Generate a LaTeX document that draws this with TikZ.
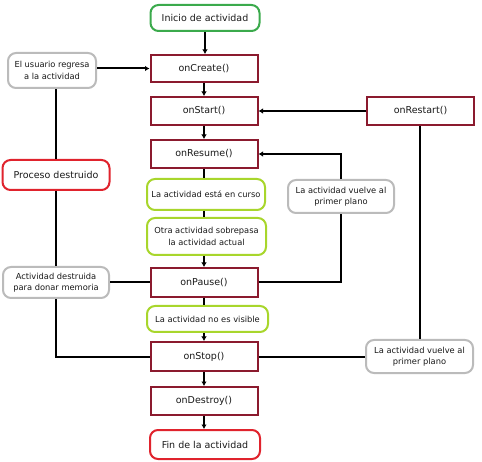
\documentclass[tikz,border=0pt]{standalone}
\usepackage{fontspec}
\setmainfont{DejaVu Sans}
\usetikzlibrary{arrows.meta}
\definecolor{mroon}{HTML}{8B1A2E}
\definecolor{dgreen}{HTML}{3BAA4C}
\definecolor{ygreen}{HTML}{A8D62C}
\definecolor{bred}{HTML}{E0232D}
\definecolor{lgray}{HTML}{BBBBBB}
\tikzset{
  base/.style={draw, line width=2pt, fill=white, align=center, inner sep=1pt, text=black!90},
  big/.style={font=\fontsize{9.5}{11}\selectfont},
  small/.style={font=\fontsize{8.3}{11.5}\selectfont},
  method/.style={base, big, draw=mroon, minimum width=107pt, minimum height=27pt},
  greenbox/.style={base, big, draw=dgreen, rounded corners=8pt},
  redbox/.style={base, big, draw=bred, rounded corners=8pt},
  ygbox/.style={base, small, draw=ygreen, rounded corners=8pt},
  graybox/.style={base, small, draw=lgray, rounded corners=8pt},
  conn/.style={line width=2pt, black},
  arr/.style={conn, -{Latex[length=4.5pt,width=5.5pt]}}
}
\begin{document}
\begin{tikzpicture}[x=1pt, y=-1pt]
\useasboundingbox (0,0) rectangle (482,462);
% nodes
\node[greenbox, minimum width=109pt, minimum height=26pt] (ini) at (205,18) {Inicio de actividad};
\node[method] (cre) at (204,68.5) {onCreate()};
\node[graybox, minimum width=88pt, minimum height=35pt] (usr) at (52,70.5) {El usuario regresa\\a la actividad};
\node[method, minimum height=28pt] (sta) at (204,111) {onStart()};
\node[method, minimum height=28pt] (rst) at (420.5,111) {onRestart()};
\node[method, minimum height=28pt] (res) at (204,154) {onResume()};
\node[redbox, minimum width=107pt, minimum height=30pt] (pro) at (56,175) {Proceso destruido};
\node[ygbox, minimum width=118pt, minimum height=31pt] (cur) at (206,194.5) {La actividad está en curso};
\node[graybox, minimum width=106pt, minimum height=33pt] (vu1) at (341,196.5) {La actividad vuelve al\\primer plano};
\node[ygbox, minimum width=119pt, minimum height=37pt] (otr) at (206.5,236.5) {Otra actividad sobrepasa\\la actividad actual};
\node[graybox, minimum width=106pt, minimum height=31pt] (act) at (56,282.5) {Actividad destruida\\para donar memoria};
\node[method, minimum height=29pt] (pau) at (204,282.5) {onPause()};
\node[ygbox, minimum width=121pt, minimum height=26pt] (nov) at (207.5,319) {La actividad no es visible};
\node[method, minimum height=29pt] (sto) at (204,356.5) {onStop()};
\node[graybox, minimum width=107pt, minimum height=33pt] (vu2) at (419.5,356.5) {La actividad vuelve al\\primer plano};
\node[method, minimum height=28pt] (des) at (204,401) {onDestroy()};
\node[redbox, minimum width=110pt, minimum height=29pt] (fin) at (205,444.5) {Fin de la actividad};
% connectors
\draw[arr] (ini.south) -- (ini.south |- cre.north);
\draw[arr] (usr.east |- cre.west) -- (cre.west);
\draw[conn] (pro.north |- usr.south) -- (pro.north);
\draw[conn] (pro.south) -- (act.north);
\draw[conn] (act.east) -- (pau.west);
\draw[conn] (act.south) |- (sto.west);
\draw[arr] (cre.south) -- (sta.north);
\draw[arr] (rst.west) -- (sta.east);
\draw[arr] (sta.south) -- (res.north);
\draw[conn] (res.south) -- (res.south |- cur.north);
\draw[conn] (res.south |- cur.south) -- (res.south |- otr.north);
\draw[arr] (res.south |- otr.south) -- (pau.north);
\draw[conn] (pau.south) -- (pau.south |- nov.north);
\draw[arr] (pau.south |- nov.south) -- (sto.north);
\draw[arr] (sto.south) -- (des.north);
\draw[arr] (des.south) -- (des.south |- fin.north);
\draw[conn] (pau.east) -| (vu1.south);
\draw[arr] (vu1.north) |- (res.east);
\draw[conn] (sto.east) -- (vu2.west);
\draw[conn] (vu2.north) -- (vu2.north |- rst.south);
\end{tikzpicture}
\end{document}
